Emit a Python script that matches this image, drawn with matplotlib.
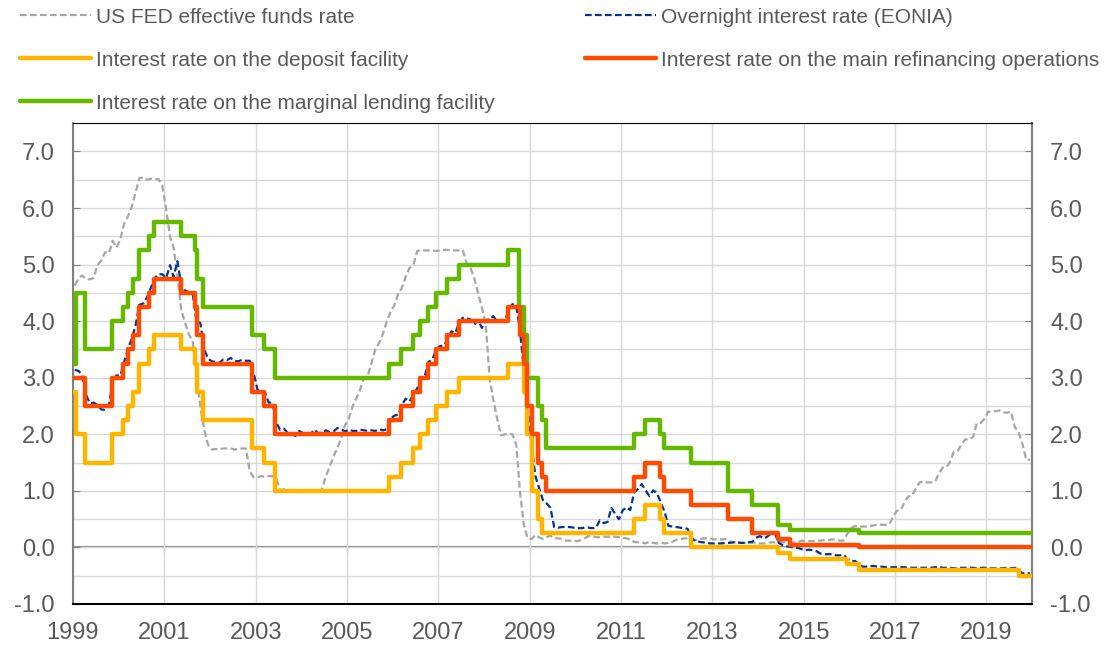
import numpy as np
import pandas as pd
import matplotlib
matplotlib.use('Agg')
import matplotlib.pyplot as plt
from matplotlib.lines import Line2D

plt.rcParams['font.family'] = ['Liberation Sans', 'DejaVu Sans']

# ECB key rates: change dates and new levels (step series)
mro_dates = ['1999-01-01', '1999-04-09', '1999-11-05', '2000-02-04', '2000-03-17', '2000-04-28',
             '2000-06-09', '2000-09-01', '2000-10-06', '2001-05-11', '2001-08-31', '2001-09-18',
             '2001-11-09', '2002-12-06', '2003-03-07', '2003-06-06', '2005-12-06', '2006-03-08',
             '2006-06-15', '2006-08-09', '2006-10-11', '2006-12-13', '2007-03-14', '2007-06-13',
             '2008-07-09', '2008-10-15', '2008-11-12', '2008-12-10', '2009-01-21', '2009-03-11',
             '2009-04-08', '2009-05-13', '2011-04-13', '2011-07-13', '2011-11-09', '2011-12-14',
             '2012-07-11', '2013-05-08', '2013-11-13', '2014-06-11', '2014-09-10', '2016-03-16',
             '2019-12-31']
mro_vals = [3.00, 2.50, 3.00, 3.25, 3.50, 3.75, 4.25, 4.50, 4.75, 4.50, 4.25, 3.75,
            3.25, 2.75, 2.50, 2.00, 2.25, 2.50, 2.75, 3.00, 3.25, 3.50, 3.75, 4.00,
            4.25, 3.75, 3.25, 2.50, 2.00, 1.50, 1.25, 1.00, 1.25, 1.50, 1.25, 1.00,
            0.75, 0.50, 0.25, 0.15, 0.05, 0.00, 0.00]

df_dates = ['1999-01-04', '1999-01-22', '1999-04-09', '1999-11-05', '2000-02-04', '2000-03-17',
            '2000-04-28', '2000-06-09', '2000-09-01', '2000-10-06', '2001-05-11', '2001-08-31',
            '2001-09-18', '2001-11-09', '2002-12-06', '2003-03-07', '2003-06-06', '2005-12-06',
            '2006-03-08', '2006-06-15', '2006-08-09', '2006-10-11', '2006-12-13', '2007-03-14',
            '2007-06-13', '2008-07-09', '2008-11-12', '2008-12-10', '2009-01-21', '2009-03-11',
            '2009-04-08', '2011-04-13', '2011-07-13', '2011-11-09', '2011-12-14', '2012-07-11',
            '2014-06-11', '2014-09-10', '2015-12-09', '2016-03-16', '2019-09-18', '2019-12-31']
df_vals = [2.75, 2.00, 1.50, 2.00, 2.25, 2.50, 2.75, 3.25, 3.50, 3.75, 3.50, 3.25,
           2.75, 2.25, 1.75, 1.50, 1.00, 1.25, 1.50, 1.75, 2.00, 2.25, 2.50, 2.75,
           3.00, 3.25, 2.75, 2.00, 1.00, 0.50, 0.25, 0.50, 0.75, 0.50, 0.25, 0.00,
           -0.10, -0.20, -0.30, -0.40, -0.50, -0.50]

mlf_dates = ['1999-01-04', '1999-01-22', '1999-04-09', '1999-11-05', '2000-02-04', '2000-03-17',
             '2000-04-28', '2000-06-09', '2000-09-01', '2000-10-06', '2001-05-11', '2001-08-31',
             '2001-09-18', '2001-11-09', '2002-12-06', '2003-03-07', '2003-06-06', '2005-12-06',
             '2006-03-08', '2006-06-15', '2006-08-09', '2006-10-11', '2006-12-13', '2007-03-14',
             '2007-06-13', '2008-07-09', '2008-10-09', '2008-11-12', '2008-12-10', '2009-03-11',
             '2009-04-08', '2009-05-13', '2011-04-13', '2011-07-13', '2011-11-09', '2011-12-14',
             '2012-07-11', '2013-05-08', '2013-11-13', '2014-06-11', '2014-09-10', '2016-03-16',
             '2019-12-31']
mlf_vals = [3.25, 4.50, 3.50, 4.00, 4.25, 4.50, 4.75, 5.25, 5.50, 5.75, 5.50, 5.25,
            4.75, 4.25, 3.75, 3.50, 3.00, 3.25, 3.50, 3.75, 4.00, 4.25, 4.50, 4.75,
            5.00, 5.25, 4.25, 3.75, 3.00, 2.50, 2.25, 1.75, 2.00, 2.25, 2.00, 1.75,
            1.50, 1.00, 0.75, 0.40, 0.30, 0.25, 0.25]

# monthly values, Jan 1999 - Dec 2019
eonia = [3.14, 3.12, 3.05, 2.70, 2.55, 2.56, 2.52, 2.44, 2.43, 2.50, 2.94, 3.04,
         3.04, 3.28, 3.51, 3.69, 3.92, 4.29, 4.31, 4.42, 4.59, 4.76, 4.83, 4.83,
         4.76, 4.99, 4.78, 5.06, 4.65, 4.54, 4.51, 4.49, 3.99, 3.97, 3.51, 3.34,
         3.29, 3.28, 3.26, 3.32, 3.31, 3.35, 3.30, 3.29, 3.32, 3.30, 3.30, 3.09,
         2.79, 2.76, 2.75, 2.56, 2.56, 2.21, 2.08, 2.10, 2.02, 2.01, 1.97, 2.06,
         2.02, 2.03, 2.01, 2.08, 2.02, 2.03, 2.07, 2.04, 2.05, 2.11, 2.09, 2.05,
         2.08, 2.06, 2.06, 2.08, 2.07, 2.06, 2.07, 2.06, 2.09, 2.07, 2.09, 2.28,
         2.33, 2.35, 2.52, 2.63, 2.58, 2.70, 2.81, 2.97, 3.04, 3.28, 3.33, 3.50,
         3.56, 3.57, 3.69, 3.82, 3.79, 3.96, 4.06, 4.05, 4.03, 3.94, 4.02, 3.88,
         4.02, 4.03, 4.09, 3.99, 4.01, 4.01, 4.19, 4.30, 4.27, 3.82, 3.15, 2.49,
         1.81, 1.26, 1.06, 0.84, 0.78, 0.70, 0.36, 0.35, 0.36, 0.36, 0.36, 0.35,
         0.34, 0.34, 0.35, 0.35, 0.34, 0.35, 0.48, 0.43, 0.45, 0.70, 0.59, 0.50,
         0.66, 0.71, 0.66, 0.97, 1.03, 1.12, 1.01, 0.91, 1.01, 0.96, 0.79, 0.63,
         0.38, 0.37, 0.36, 0.35, 0.34, 0.33, 0.18, 0.11, 0.10, 0.09, 0.08, 0.07,
         0.07, 0.07, 0.07, 0.08, 0.08, 0.09, 0.09, 0.08, 0.08, 0.09, 0.10, 0.17,
         0.20, 0.16, 0.19, 0.25, 0.25, 0.08, 0.04, 0.02, 0.01, 0.00, -0.01, -0.03,
         -0.05, -0.04, -0.05, -0.07, -0.11, -0.12, -0.12, -0.12, -0.14, -0.14, -0.13, -0.20,
         -0.24, -0.24, -0.29, -0.34, -0.34, -0.33, -0.33, -0.34, -0.34, -0.35, -0.35, -0.35,
         -0.35, -0.35, -0.35, -0.36, -0.36, -0.36, -0.36, -0.36, -0.36, -0.36, -0.35, -0.34,
         -0.36, -0.36, -0.36, -0.37, -0.37, -0.36, -0.36, -0.36, -0.36, -0.37, -0.36, -0.36,
         -0.37, -0.37, -0.37, -0.37, -0.37, -0.36, -0.37, -0.36, -0.40, -0.46, -0.45, -0.46]

fed = [4.63, 4.76, 4.81, 4.74, 4.74, 4.76, 4.99, 5.07, 5.22, 5.20, 5.42, 5.30,
       5.45, 5.73, 5.85, 6.02, 6.27, 6.53, 6.54, 6.50, 6.52, 6.51, 6.51, 6.40,
       5.98, 5.49, 5.31, 4.80, 4.21, 3.97, 3.77, 3.65, 3.07, 2.49, 2.09, 1.82,
       1.73, 1.74, 1.73, 1.75, 1.75, 1.75, 1.73, 1.74, 1.75, 1.75, 1.34, 1.24,
       1.24, 1.26, 1.25, 1.26, 1.26, 1.22, 1.01, 1.03, 1.01, 1.01, 1.00, 0.98,
       1.00, 1.01, 1.00, 1.00, 1.00, 1.03, 1.26, 1.43, 1.61, 1.76, 1.93, 2.16,
       2.28, 2.50, 2.63, 2.79, 3.00, 3.04, 3.26, 3.50, 3.62, 3.78, 4.00, 4.16,
       4.29, 4.49, 4.59, 4.79, 4.94, 4.99, 5.24, 5.25, 5.25, 5.25, 5.25, 5.24,
       5.25, 5.26, 5.26, 5.25, 5.25, 5.25, 5.26, 5.02, 4.94, 4.76, 4.49, 4.24,
       3.94, 2.98, 2.61, 2.28, 1.98, 2.00, 2.01, 2.00, 1.81, 0.97, 0.39, 0.16,
       0.15, 0.22, 0.18, 0.15, 0.18, 0.21, 0.16, 0.16, 0.15, 0.12, 0.12, 0.12,
       0.11, 0.13, 0.16, 0.20, 0.20, 0.18, 0.18, 0.19, 0.19, 0.19, 0.19, 0.18,
       0.17, 0.16, 0.14, 0.10, 0.09, 0.09, 0.07, 0.10, 0.08, 0.07, 0.08, 0.07,
       0.08, 0.10, 0.13, 0.14, 0.16, 0.16, 0.16, 0.13, 0.14, 0.16, 0.16, 0.16,
       0.14, 0.15, 0.14, 0.15, 0.11, 0.09, 0.09, 0.08, 0.08, 0.09, 0.08, 0.09,
       0.07, 0.07, 0.08, 0.09, 0.09, 0.10, 0.09, 0.09, 0.09, 0.09, 0.09, 0.12,
       0.11, 0.11, 0.11, 0.12, 0.12, 0.13, 0.13, 0.14, 0.14, 0.12, 0.12, 0.24,
       0.34, 0.38, 0.36, 0.37, 0.37, 0.38, 0.39, 0.40, 0.40, 0.40, 0.41, 0.54,
       0.65, 0.66, 0.79, 0.90, 0.91, 1.04, 1.15, 1.16, 1.15, 1.15, 1.16, 1.30,
       1.41, 1.42, 1.51, 1.69, 1.70, 1.82, 1.91, 1.91, 1.95, 2.19, 2.20, 2.27,
       2.40, 2.40, 2.41, 2.42, 2.39, 2.38, 2.40, 2.13, 2.04, 1.83, 1.55, 1.55]

months = pd.date_range('1999-01-01', periods=len(eonia), freq='MS') + pd.Timedelta(days=14)

labels = ['US FED effective funds rate', 'Overnight interest rate (EONIA)',
          'Interest rate on the deposit facility', 'Interest rate on the main refinancing operations',
          'Interest rate on the marginal lending facility']

c_fed = '#A6A6A6'
c_eonia = '#003299'
c_df = '#FFB400'
c_mro = '#FF4B00'
c_mlf = '#65B800'
c_text = '#595959'

fig = plt.figure(figsize=(11.11, 6.45), dpi=100)
ax = fig.add_axes([0.0657, 0.0636, 0.8633, 0.7454])

ax.plot(months, fed, color=c_fed, lw=1.6, ls=(0, (3, 1.5)), zorder=3)
ax.plot(months, eonia, color=c_eonia, lw=1.6, ls=(0, (3, 1.5)), zorder=4)
ax.plot(pd.to_datetime(df_dates), df_vals, color=c_df, lw=3.2, drawstyle='steps-post', zorder=5)
ax.plot(pd.to_datetime(mlf_dates), mlf_vals, color=c_mlf, lw=3.2, drawstyle='steps-post', zorder=5)
ax.plot(pd.to_datetime(mro_dates), mro_vals, color=c_mro, lw=3.2, drawstyle='steps-post', zorder=6)

ymin, ymax = -1.0, 7.5
ax.set_ylim(ymin, ymax)
ax.set_xlim(pd.Timestamp('1999-01-01'), pd.Timestamp('2020-01-01'))

years = [pd.Timestamp('%d-01-01' % y) for y in range(1999, 2020, 2)]
ax.set_xticks(years)
ax.set_xticklabels([str(y.year) for y in years])
ax.set_yticks(np.arange(-1, 7.01, 1.0))
ax.set_yticks(np.arange(-0.5, 7.51, 1.0), minor=True)
ax.yaxis.set_major_formatter(matplotlib.ticker.FormatStrFormatter('%.1f'))

ax.grid(True, which='both', axis='y', color='#D9D9D9', lw=1)
ax.grid(True, which='major', axis='x', color='#D9D9D9', lw=1)
ax.set_axisbelow(True)

ax.tick_params(axis='x', length=0, labelsize=17, labelcolor=c_text, pad=13)
ax.tick_params(axis='y', which='major', direction='in', length=5, color='#808080',
               labelsize=17, labelcolor=c_text, left=True, right=True,
               labelleft=True, labelright=True, pad=13)
ax.tick_params(axis='y', which='minor', length=0)

for s in ['left', 'right']:
    ax.spines[s].set_color('#808080')
    ax.spines[s].set_linewidth(1.5)
ax.spines['top'].set_color('black')
ax.spines['bottom'].set_color('black')
ax.spines['bottom'].set_linewidth(1.5)

# zero line carrying the year tick marks
zero_loc = (0 - ymin) / (ymax - ymin)
sec = ax.secondary_xaxis(zero_loc)
sec.set_xticks(years)
sec.tick_params(direction='out', length=5, color='#808080', labelbottom=False, labeltop=False)
sec.spines['bottom'].set_color('#808080')
sec.spines['bottom'].set_linewidth(1.5)

handles = [Line2D([], [], color=c_fed, lw=1.6, ls=(0, (3, 1.5))),
           Line2D([], [], color=c_df, lw=3.2, solid_capstyle='round'),
           Line2D([], [], color=c_mlf, lw=3.2, solid_capstyle='round'),
           Line2D([], [], color=c_eonia, lw=1.6, ls=(0, (3, 1.5))),
           Line2D([], [], color=c_mro, lw=3.2, solid_capstyle='round')]
leg_labels = [labels[0], labels[2], labels[4], labels[1], labels[3]]
fig.legend(handles, leg_labels, loc='upper left', bbox_to_anchor=(0.001, 1.017), ncol=2,
           frameon=False, fontsize=15, labelcolor=c_text, handlelength=3.4,
           handletextpad=0.25, columnspacing=4.35, labelspacing=1.15)

fig.savefig('out.png', dpi=100)
